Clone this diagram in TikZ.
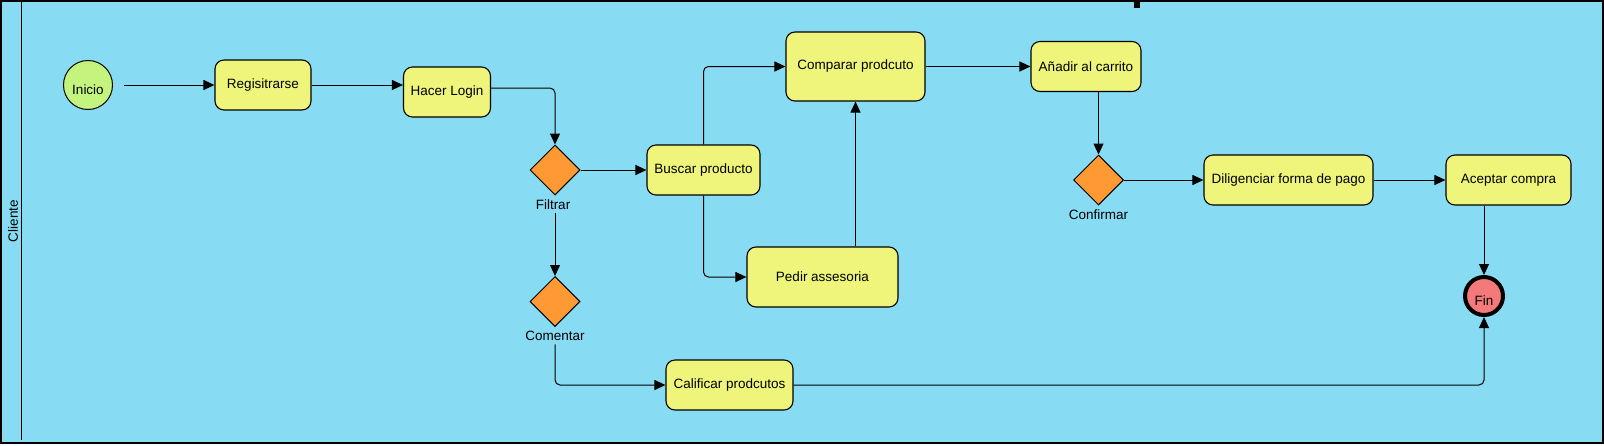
\documentclass[tikz,border=0pt]{standalone}
\usepackage{fontspec}
\setmainfont{Liberation Sans}
\usepackage{tikz}
\usetikzlibrary{arrows.meta,positioning,shapes.geometric}
\definecolor{laneblue}{RGB}{135,220,244}
\definecolor{taskyellow}{RGB}{238,245,122}
\definecolor{gateorange}{RGB}{255,153,51}
\definecolor{startgreen}{RGB}{196,244,126}
\definecolor{endred}{RGB}{244,122,122}

\begin{document}
\begin{tikzpicture}[x=1pt,y=-1pt,font=\fontsize{13.5}{16}\selectfont,
  task/.style={draw,line width=1.1pt,fill=taskyellow,rounded corners=9pt,inner sep=0pt},
  gate/.style={diamond,draw,line width=1pt,fill=gateorange,inner sep=0pt,
    minimum width=50pt,minimum height=50pt},
  flow/.style={line width=1pt,rounded corners=5pt,-{Triangle[length=11pt,width=10pt]}}]
  \useasboundingbox (0,0) rectangle (1604,445);
  % lane
  \fill[laneblue] (1,1) rectangle (1603,443);
  \draw[line width=1.2pt] (1,1) rectangle (1603,443);
  \draw[line width=1.2pt] (21.5,1) -- (21.5,440);
  \node[rotate=90] (lane) at (13,221) {Cliente};
  \fill (1134,0) rectangle (1140,8);
  % nodes
  \node[circle,draw,line width=1pt,fill=startgreen,minimum size=49pt,inner sep=0pt]
    (inicio) at (88,85) {\raisebox{-9pt}[0pt][0pt]{Inicio}};
  \node[task,minimum width=96pt,minimum height=50pt] (regis) at (263,85) {Regisitrarse};
  \node[task,minimum width=87pt,minimum height=50pt] (login) at (447,92) {Hacer Login};
  \node[gate] (filtrar) at (555,170) {};
  \node (filtrarlbl) at (553,205) {Filtrar};
  \node[task,minimum width=113pt,minimum height=50pt] (buscar) at (703.5,170) {Buscar producto};
  \node[task,minimum width=139pt,minimum height=69pt] (comparar) at (855.5,66.5) {Comparar prodcuto};
  \node[task,minimum width=151pt,minimum height=60pt] (pedir) at (822.5,277) {Pedir assesoria};
  \node[gate] (comentar) at (555,301.5) {};
  \node (comentarlbl) at (555,336) {Comentar};
  \node[task,minimum width=127pt,minimum height=50pt] (calificar) at (729.5,385) {Calificar prodcutos};
  \node[task,minimum width=110pt,minimum height=50pt] (anadir) at (1086,66.5) {Añadir al carrito};
  \node[gate] (confirmar) at (1098.5,180) {};
  \node (confirmarlbl) at (1098.5,215) {Confirmar};
  \node[task,minimum width=169pt,minimum height=50pt] (dilig) at (1288.5,180) {Diligenciar forma de pago};
  \node[task,minimum width=125pt,minimum height=50pt] (aceptar) at (1508.5,180) {Aceptar compra};
  \node[circle,draw,line width=4pt,fill=endred,minimum size=38pt,inner sep=0pt]
    (fin) at (1484,296) {\raisebox{-9pt}[0pt][0pt]{Fin}};
  % flows
  \draw[flow] ([xshift=11pt]inicio.east) -- (regis.west);
  \draw[flow] (regis.east) -- (regis.east -| login.west);
  \draw[flow] ([yshift=4pt]login.east) -| (filtrar.north);
  \draw[flow] (filtrar.east) -- (buscar.west);
  \draw[flow] (buscar.north) |- (comparar.west);
  \draw[flow] (buscar.south) |- (pedir.west);
  \draw[flow] (pedir.north -| comparar.south) -- (comparar.south);
  \draw[flow] (filtrarlbl.south -| filtrar.south) -- (comentar.north);
  \draw[flow] (comentarlbl.south) |- (calificar.west);
  \draw[flow] (calificar.east) -| (fin.south);
  \draw[flow] (comparar.east) -- (anadir.west);
  \draw[flow] (anadir.south -| confirmar.north) -- (confirmar.north);
  \draw[flow] (confirmar.east) -- (dilig.west);
  \draw[flow] (dilig.east) -- (aceptar.west);
  \draw[flow] (aceptar.south -| fin.north) -- (fin.north);
\end{tikzpicture}
\end{document}
